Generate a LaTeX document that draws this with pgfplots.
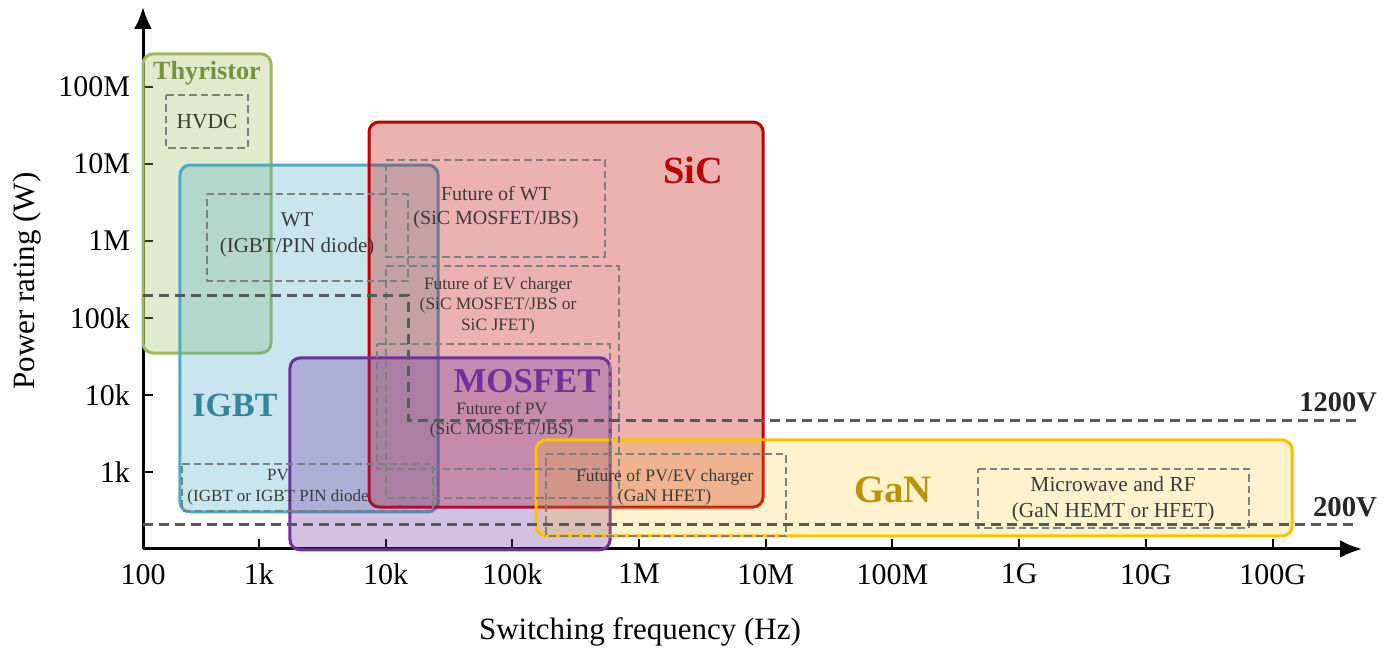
\documentclass[border=0pt]{standalone}
\usepackage{fontspec}
\setmainfont{Liberation Serif}
\usepackage{pgfplots}
\pgfplotsset{compat=1.18}
\usetikzlibrary{arrows.meta}
\definecolor{thyB}{HTML}{9BBB59}
\definecolor{thyT}{HTML}{76923C}
\definecolor{igbB}{HTML}{4BACC6}
\definecolor{igbT}{HTML}{31859C}
\definecolor{sicB}{HTML}{C00000}
\definecolor{mosB}{HTML}{7030A0}
\definecolor{ganB}{HTML}{FFC000}
\definecolor{ganT}{HTML}{BF9000}
\definecolor{boxG}{HTML}{7F7F7F}
\definecolor{lineG}{HTML}{595959}
\definecolor{txtG}{HTML}{3A3A3A}
\tikzset{
  region/.style={line width=1.5pt, rounded corners=5pt, fill opacity=0.3},
  gbox/.style={draw=boxG, line width=1pt, dash pattern=on 3.75pt off 2pt},
  vline/.style={draw=lineG, line width=1.5pt, dash pattern=on 5pt off 3pt},
  lbl/.style={text=txtG, align=center, inner sep=0pt},
}
\begin{document}
\begin{tikzpicture}
\useasboundingbox (-71.5pt,-51pt) rectangle (628.5pt,274.5pt);
\begin{axis}[
  at={(0pt,0pt)}, anchor=south west,
  scale only axis, width=609.5pt, height=271pt,
  xmode=log, ymode=log,
  xmin=121.6, xmax=5.08e11, ymin=100, ymax=1.096e9,
  axis lines=left,
  axis line style={line width=1.5pt, -{Latex[length=11pt,width=9pt]}},
  xtick={121.6,1e3,1e4,1e5,1e6,1e7,1e8,1e9,1e10,1e11},
  xticklabels={100,1k,10k,100k,1M,10M,100M,1G,10G,100G},
  ytick={1e3,1e4,1e5,1e6,1e7,1e8},
  yticklabels={1k,10k,100k,1M,10M,100M},
  xminorticks=false, yminorticks=false,
  tick align=inside, major tick length=5pt,
  tick style={black, line width=1pt},
  tick label style={font=\fontsize{15}{18}\selectfont},
  xticklabel style={yshift=-4pt},
  yticklabel style={xshift=-3pt},
  xlabel={Switching frequency (Hz)}, ylabel={Power rating (W)},
  label style={font=\fontsize{15.5}{18}\selectfont},
  xlabel style={at={(axis description cs:0.4077,-0.153)}, anchor=center},
  ylabel style={at={(axis description cs:-0.0952,0.4945)}, anchor=center},
  clip=false,
]
% Thyristor
\addplot[region, draw=thyB, fill=thyB] coordinates {(400,35080) (1245,35080) (1245,2.69e8) (121.6,2.69e8) (121.6,35080) (400,35080)};
% IGBT
\addplot[region, draw=igbB, fill=igbB] coordinates {(2000,303) (25940,303) (25940,9.70e6) (238,9.70e6) (238,303) (2000,303)};
% SiC
\addplot[region, draw=sicB, fill=sicB] coordinates {(1e5,351) (9.53e6,351) (9.53e6,3.51e7) (7396,3.51e7) (7396,351) (1e5,351)};
% MOSFET
\addplot[region, draw=mosB, fill=mosB] coordinates {(3e4,97.7) (5.90e5,97.7) (5.90e5,30270) (1758,30270) (1758,97.7) (3e4,97.7)};
% GaN
\addplot[region, draw=ganB, fill=ganB, fill opacity=0.2] coordinates {(1e8,147.6) (1.426e11,147.6) (1.426e11,2606) (1.538e5,2606) (1.538e5,147.6) (1e8,147.6)};
% dashed application boxes
\addplot[gbox] coordinates {(185,7.87e7) (820,7.87e7) (820,1.614e7) (185,1.614e7) (185,7.87e7)};
\addplot[gbox] coordinates {(389,4.07e6) (15030,4.07e6) (15030,3.03e5) (389,3.03e5) (389,4.07e6)};
\addplot[gbox] coordinates {(10070,1.127e7) (5.40e5,1.127e7) (5.40e5,6.19e5) (10070,6.19e5) (10070,1.127e7)};
\addplot[gbox] coordinates {(10070,4.73e5) (6.95e5,4.73e5) (6.95e5,459) (10070,459) (10070,4.73e5)};
\addplot[gbox] coordinates {(8550,45900) (5.90e5,45900) (5.90e5,1094) (8550,1094) (8550,45900)};
\addplot[gbox] coordinates {(247,1271) (23660,1271) (23660,312) (247,312) (247,1271)};
\addplot[gbox] coordinates {(1.837e5,1714) (1.445e7,1714) (1.445e7,147.6) (1.837e5,147.6) (1.837e5,1714)};
\addplot[gbox] coordinates {(4.74e8,1094) (6.47e10,1094) (6.47e10,187.5) (4.74e8,187.5) (4.74e8,1094)};
% voltage boundaries
\addplot[vline] coordinates {(121.6,1.99e5) (15030,1.99e5) (15030,4732) (4.64e11,4732)};
\addplot[vline] coordinates {(121.6,211) (4.64e11,211)};
% labels
\node[inner sep=0pt, text=thyT, font=\bfseries\fontsize{13.1}{14}\selectfont] at (axis cs:389,1.51e8) {Thyristor};
\node[lbl, font=\fontsize{10.7}{12}\selectfont] at (axis cs:389,3.51e7) {HVDC};
\node[inner sep=0pt, text=igbT, font=\bfseries\fontsize{17}{18}\selectfont] at (axis cs:647,7413) {IGBT};
\node[inner sep=0pt, text=mosB, font=\bfseries\fontsize{17.4}{18}\selectfont] at (axis cs:1.306e5,15200) {MOSFET};
\node[inner sep=0pt, text=sicB, font=\bfseries\fontsize{19.2}{20}\selectfont] at (axis cs:2.67e6,8.36e6) {SiC};
\node[inner sep=0pt, text=ganT, font=\bfseries\fontsize{19.4}{20}\selectfont] at (axis cs:1.01e8,583) {GaN};
\node[lbl, font=\fontsize{10.5}{13}\selectfont] at (axis cs:2000,1.197e6) {WT\\(IGBT/PIN diode)};
\node[lbl, font=\fontsize{10}{11.9}\selectfont] at (axis cs:74300,2.69e6) {Future of WT\\(SiC MOSFET/JBS)};
\node[lbl, font=\fontsize{8.7}{10.3}\selectfont] at (axis cs:77100,1.445e5) {Future of EV charger\\(SiC MOSFET/JBS or\\SiC JFET)};
\node[lbl, font=\fontsize{8.7}{10}\selectfont] at (axis cs:82400,4732) {Future of PV\\(SiC MOSFET/JBS)};
\node[lbl, font=\fontsize{8.5}{10.5}\selectfont] at (axis cs:1416,629) {PV\\(IGBT or IGBT PIN diode};
\node[lbl, font=\fontsize{8.8}{10}\selectfont] at (axis cs:1.592e6,644) {Future of PV/EV charger\\(GaN HFET)};
\node[lbl, font=\fontsize{10.7}{13.3}\selectfont] at (axis cs:5.51e9,440) {Microwave and RF\\(GaN HEMT or HFET)};
\node[inner sep=0pt, text=black!85, font=\bfseries\fontsize{14.2}{15}\selectfont] at (axis cs:3.29e11,8110) {1200V};
\node[inner sep=0pt, text=black!85, font=\bfseries\fontsize{14.4}{15}\selectfont] at (axis cs:3.73e11,351) {200V};
\end{axis}
\end{tikzpicture}
\end{document}
